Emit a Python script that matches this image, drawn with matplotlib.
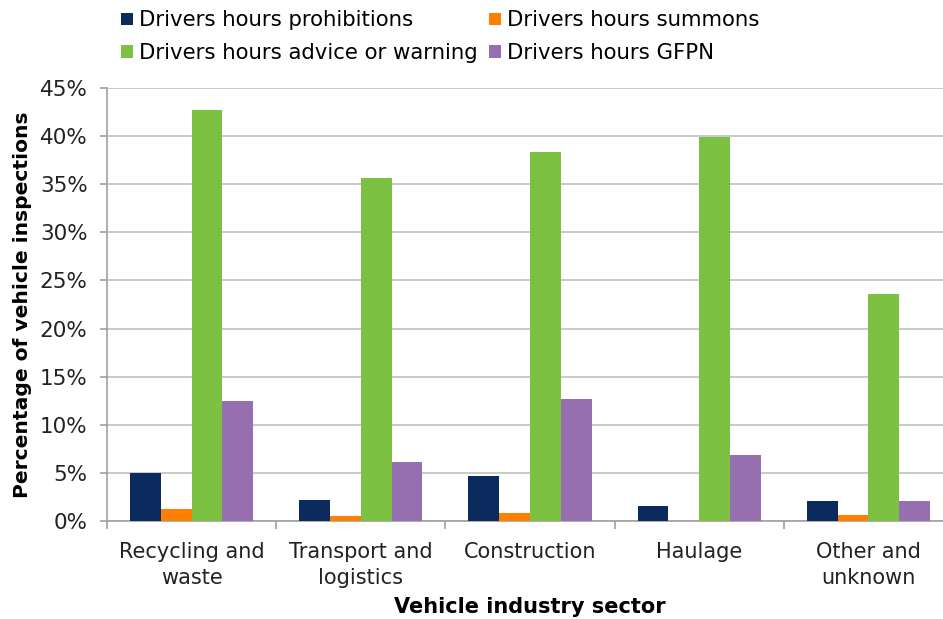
import matplotlib
matplotlib.use("Agg")
import matplotlib.pyplot as plt
import numpy as np
from matplotlib.patches import Patch

categories = ["Recycling and\nwaste", "Transport and\nlogistics", "Construction", "Haulage", "Other and\nunknown"]
series_names = ["Drivers hours prohibitions", "Drivers hours summons",
                "Drivers hours advice or warning", "Drivers hours GFPN"]
prohibitions = [5.0, 2.2, 4.65, 1.6, 2.1]
summons = [1.25, 0.5, 0.8, 0.0, 0.65]
advice = [42.7, 35.7, 38.4, 39.9, 23.6]
gfpn = [12.5, 6.1, 12.7, 6.85, 2.1]
yticks = [0, 5, 10, 15, 20, 25, 30, 35, 40, 45]

colors = ["#0B2A5E", "#FF8000", "#7DC142", "#956FB0"]
values = [prohibitions, summons, advice, gfpn]

fig = plt.figure(figsize=(9.43, 6.19), dpi=100)
ax = fig.add_axes([0.1135, 0.1583, 0.897, 0.6995])

x = np.arange(len(categories))
w = 0.182
for i, (vals, c) in enumerate(zip(values, colors)):
    ax.bar(x + (i - 1.5) * w, vals, width=w, color=c, zorder=3, linewidth=0)

ax.set_xlim(-0.5, len(categories) - 0.5)
ax.set_ylim(0, 45)
ax.set_yticks(yticks)
ax.set_yticklabels([f"{t}%" for t in yticks], fontsize=15.5, color="#222222")
ax.yaxis.grid(True, color="#C0C0C0", linewidth=1.2, zorder=0)
ax.set_xticks(x)
ax.set_xticklabels(categories, fontsize=15, color="#222222", linespacing=1.4)
ax.set_xticks(np.arange(-0.5, len(categories)), minor=True)
ax.tick_params(axis="x", which="major", length=0, pad=15)
ax.tick_params(axis="x", which="minor", length=6, color="#A0A0A0", width=1.2)
ax.tick_params(axis="y", length=5, color="#A0A0A0", width=1.2, pad=9)

for s in ["top", "right"]:
    ax.spines[s].set_visible(False)
for s in ["left", "bottom"]:
    ax.spines[s].set_color("#A0A0A0")
    ax.spines[s].set_linewidth(1.2)

ax.set_ylabel("Percentage of vehicle inspections", fontsize=14.6, fontweight="bold", labelpad=5.5)
ax.set_xlabel("Vehicle industry sector", fontsize=15, fontweight="bold", labelpad=6)

order = [0, 2, 1, 3]
handles = [Patch(facecolor=colors[i], edgecolor="none") for i in order]
labels = [series_names[i] for i in order]
fig.legend(handles, labels, ncol=2, loc="upper left", bbox_to_anchor=(0.108, 1.014),
           frameon=False, fontsize=15.3, handlelength=0.55, handleheight=0.55,
           handletextpad=0.3, columnspacing=0.55, labelspacing=0.6)

fig.savefig("out.png", dpi=100, facecolor="white")
